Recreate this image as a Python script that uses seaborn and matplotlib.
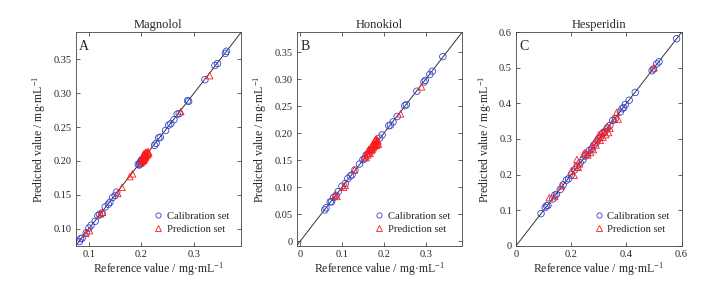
import numpy as np
import matplotlib
matplotlib.use('Agg')
import matplotlib.pyplot as plt
import pandas as pd
import seaborn as sns

# Magnolol
mag_cal_ref = [0.082, 0.084, 0.087, 0.095, 0.100, 0.104, 0.112, 0.117, 0.120, 0.125, 0.131, 0.137,
               0.140, 0.145, 0.150, 0.153, 0.194, 0.196, 0.197, 0.198, 0.199, 0.200, 0.201, 0.203,
               0.205, 0.207, 0.225, 0.228, 0.233, 0.236, 0.246, 0.252, 0.256, 0.262, 0.268, 0.272,
               0.288, 0.290, 0.321, 0.340, 0.345, 0.360, 0.362]
mag_cal_pred = [0.081, 0.085, 0.086, 0.094, 0.101, 0.105, 0.111, 0.119, 0.121, 0.123, 0.132, 0.136,
                0.139, 0.146, 0.149, 0.154, 0.195, 0.194, 0.197, 0.196, 0.200, 0.199, 0.202, 0.201,
                0.204, 0.208, 0.223, 0.226, 0.234, 0.235, 0.245, 0.253, 0.255, 0.261, 0.269, 0.270,
                0.289, 0.288, 0.320, 0.341, 0.344, 0.359, 0.362]
mag_pre_ref = [0.094, 0.101, 0.122, 0.126, 0.155, 0.163, 0.178, 0.183, 0.199, 0.200, 0.201, 0.202,
               0.202, 0.203, 0.203, 0.204, 0.204, 0.205, 0.205, 0.206, 0.206, 0.207, 0.207, 0.208,
               0.208, 0.209, 0.209, 0.210, 0.211, 0.212, 0.213, 0.214, 0.275, 0.330]
mag_pre_pred = [0.093, 0.097, 0.122, 0.124, 0.152, 0.161, 0.177, 0.181, 0.197, 0.203, 0.199, 0.205,
                0.200, 0.207, 0.202, 0.209, 0.201, 0.204, 0.211, 0.203, 0.207, 0.210, 0.205, 0.212,
                0.206, 0.208, 0.213, 0.210, 0.209, 0.212, 0.214, 0.211, 0.273, 0.326]

# Honokiol
hon_cal_ref = [0.059, 0.062, 0.072, 0.075, 0.080, 0.086, 0.091, 0.100, 0.108, 0.114, 0.120, 0.124,
               0.131, 0.142, 0.150, 0.154, 0.158, 0.163, 0.167, 0.171, 0.176, 0.180, 0.190, 0.196,
               0.212, 0.216, 0.222, 0.232, 0.250, 0.254, 0.279, 0.296, 0.299, 0.310, 0.316, 0.341]
hon_cal_pred = [0.058, 0.062, 0.073, 0.073, 0.081, 0.085, 0.092, 0.102, 0.107, 0.116, 0.121, 0.123,
                0.132, 0.143, 0.151, 0.153, 0.160, 0.162, 0.168, 0.170, 0.177, 0.179, 0.191, 0.197,
                0.214, 0.215, 0.221, 0.231, 0.251, 0.253, 0.278, 0.295, 0.298, 0.309, 0.315, 0.342]
hon_pre_ref = [0.084, 0.088, 0.104, 0.108, 0.130, 0.155, 0.158, 0.160, 0.162, 0.164, 0.165, 0.167,
               0.168, 0.170, 0.171, 0.172, 0.173, 0.174, 0.175, 0.176, 0.177, 0.178, 0.179, 0.180,
               0.180, 0.181, 0.182, 0.183, 0.184, 0.185, 0.186, 0.187, 0.240, 0.290]
hon_pre_pred = [0.086, 0.083, 0.100, 0.104, 0.132, 0.158, 0.155, 0.163, 0.160, 0.170, 0.166, 0.163,
                0.172, 0.168, 0.176, 0.170, 0.178, 0.173, 0.181, 0.175, 0.184, 0.177, 0.186, 0.179,
                0.188, 0.182, 0.190, 0.178, 0.185, 0.182, 0.186, 0.180, 0.236, 0.286]

# Hesperidin
hes_cal_ref = [0.090, 0.105, 0.110, 0.115, 0.132, 0.140, 0.146, 0.160, 0.170, 0.182, 0.190, 0.200,
               0.212, 0.222, 0.232, 0.242, 0.250, 0.258, 0.266, 0.274, 0.282, 0.290, 0.298, 0.306,
               0.314, 0.322, 0.330, 0.340, 0.350, 0.360, 0.378, 0.384, 0.390, 0.396, 0.410, 0.432,
               0.493, 0.498, 0.510, 0.518, 0.582]
hes_cal_pred = [0.090, 0.107, 0.112, 0.113, 0.131, 0.142, 0.144, 0.158, 0.171, 0.184, 0.188, 0.199,
                0.213, 0.220, 0.233, 0.241, 0.252, 0.257, 0.268, 0.272, 0.283, 0.289, 0.300, 0.305,
                0.316, 0.321, 0.331, 0.338, 0.352, 0.358, 0.376, 0.385, 0.388, 0.397, 0.409, 0.431,
                0.492, 0.497, 0.511, 0.517, 0.582]
hes_pre_ref = [0.120, 0.140, 0.165, 0.200, 0.210, 0.215, 0.220, 0.225, 0.230, 0.245, 0.250, 0.260,
               0.270, 0.275, 0.280, 0.285, 0.290, 0.295, 0.300, 0.305, 0.310, 0.315, 0.320, 0.325,
               0.330, 0.335, 0.340, 0.355, 0.365, 0.370, 0.500]
hes_pre_pred = [0.135, 0.138, 0.168, 0.210, 0.198, 0.225, 0.242, 0.220, 0.230, 0.258, 0.262, 0.255,
                0.262, 0.280, 0.270, 0.292, 0.283, 0.300, 0.312, 0.296, 0.318, 0.305, 0.322, 0.312,
                0.335, 0.318, 0.330, 0.355, 0.375, 0.356, 0.500]

panels = [
    ('Magnolol', 'A', mag_cal_ref, mag_cal_pred, mag_pre_ref, mag_pre_pred,
     (0.075, 0.39), [0.1, 0.2, 0.3], [0.10, 0.15, 0.20, 0.25, 0.30, 0.35]),
    ('Honokiol', 'B', hon_cal_ref, hon_cal_pred, hon_pre_ref, hon_pre_pred,
     (-0.008, 0.387), [0, 0.1, 0.2, 0.3], [0, 0.05, 0.10, 0.15, 0.20, 0.25, 0.30, 0.35]),
    ('Hesperidin', 'C', hes_cal_ref, hes_cal_pred, hes_pre_ref, hes_pre_pred,
     (0, 0.6), [0, 0.2, 0.4, 0.6], [0, 0.1, 0.2, 0.3, 0.4, 0.5, 0.6]),
]

sns.set_style('ticks')
plt.rcParams['font.family'] = ['Liberation Serif', 'DejaVu Serif']
plt.rcParams['mathtext.fontset'] = 'custom'
plt.rcParams['mathtext.rm'] = 'Liberation Serif'
plt.rcParams['mathtext.it'] = 'Liberation Serif:italic'
plt.rcParams['mathtext.bf'] = 'Liberation Serif:bold'
plt.rcParams['mathtext.default'] = 'rm'
plt.rcParams['xtick.direction'] = 'in'
plt.rcParams['ytick.direction'] = 'in'

fig = plt.figure(figsize=(7.22, 2.81), dpi=100)
lefts = [0.105, 0.411, 0.715]
colors = {'Calibration set': '#3344cc', 'Prediction set': '#ff1a1a'}

for (title, letter, cr, cp, pr, pp, lim, xt, yt), left in zip(panels, lefts):
    ax = fig.add_axes([left, 0.126, 0.229, 0.759])
    df = pd.concat([
        pd.DataFrame({'ref': cr, 'pred': cp, 'set': 'Calibration set'}),
        pd.DataFrame({'ref': pr, 'pred': pp, 'set': 'Prediction set'}),
    ])
    ax.plot(lim, lim, color='#333333', lw=0.7, zorder=1)
    sns.scatterplot(data=df, x='ref', y='pred', hue='set', style='set',
                    markers={'Calibration set': 'o', 'Prediction set': '^'},
                    palette=colors, s=22, linewidth=0.6, ax=ax, zorder=2)
    # hollow markers
    for coll in ax.collections:
        fc = coll.get_facecolors()
        coll.set_edgecolors(fc)
        coll.set_facecolors('none')
    ax.set_xlim(lim)
    ax.set_ylim(lim)
    ax.set_xticks(xt)
    ax.set_yticks(yt)
    if title == 'Magnolol':
        ax.set_xticklabels(['%.1f' % v for v in xt])
        ax.set_yticklabels(['%.2f' % v for v in yt])
    elif title == 'Honokiol':
        ax.set_xticklabels(['0' if v == 0 else '%.1f' % v for v in xt])
        ax.set_yticklabels(['0' if v == 0 else '%.2f' % v for v in yt])
    else:
        ax.set_xticklabels(['0' if v == 0 else '%.1f' % v for v in xt])
        ax.set_yticklabels(['0' if v == 0 else '%.1f' % v for v in yt])
    ax.tick_params(top=True, right=True, labelsize=7.5, length=3, width=0.5, pad=3)
    for sp in ax.spines.values():
        sp.set_linewidth(0.6)
        sp.set_color('#444444')
    ax.set_xlabel('Reference value / mg·mL$^{-1}$', fontsize=8.5, labelpad=1.5)
    ax.set_ylabel('Predicted value / mg·mL$^{-1}$', fontsize=8.5, labelpad=4)
    ax.set_title(title, fontsize=9, pad=3)
    ax.text(0.02, 0.965, letter, transform=ax.transAxes, fontsize=10, va='top', ha='left')
    leg = ax.legend(loc='lower right', frameon=False, fontsize=7.7, handletextpad=0.2,
                    borderaxespad=0.7, labelspacing=0.3, handlelength=1.2, markerscale=0.8)
    for h, t in zip(leg.legend_handles, leg.get_texts()):
        c = colors[t.get_text()]
        h.set_markeredgecolor(c)
        h.set_markerfacecolor('none')

fig.savefig('out.png', dpi=100)
